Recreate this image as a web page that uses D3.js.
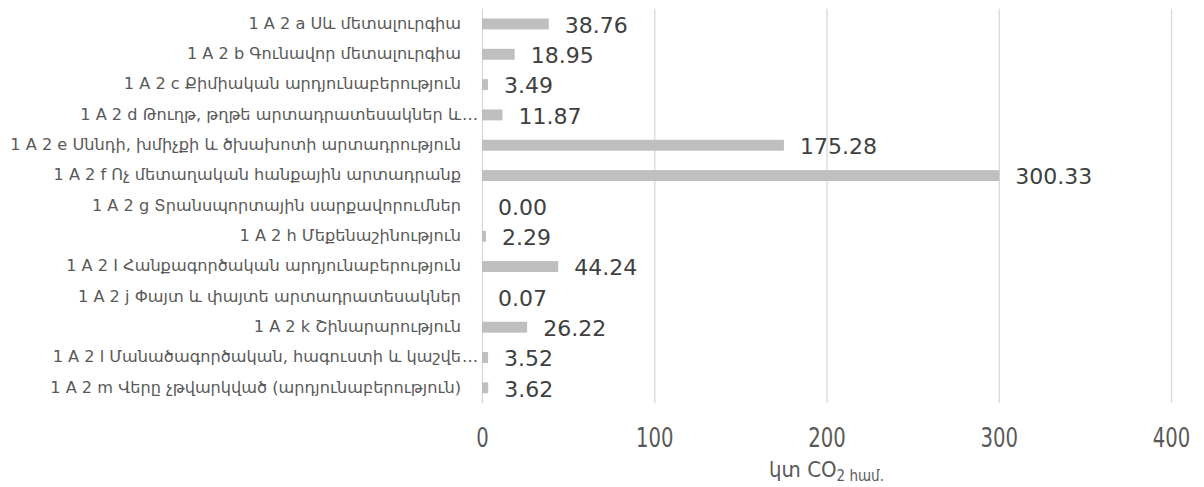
<!DOCTYPE html>
<html>
<head>
<meta charset="utf-8">
<script src="https://cdn.jsdelivr.net/npm/d3@7"></script>
<style>
  html, body { margin: 0; padding: 0; background: #fff; }
  svg { display: block; }
</style>
</head>
<body>
<svg id="chart" width="1204" height="487"></svg>
<script>
const categories = [
  "1 A 2 a Սև մետալուրգիա",
  "1 A 2 b Գունավոր մետալուրգիա",
  "1 A 2 c Քիմիական արդյունաբերություն",
  "1 A 2 d Թուղթ, թղթե արտադրատեսակներ և",
  "1 A 2 e Սննդի, խմիչքի և ծխախոտի արտադրություն",
  "1 A 2 f Ոչ մետաղական հանքային արտադրանք",
  "1 A 2 g Տրանսպորտային սարքավորումներ",
  "1 A 2 h Մեքենաշինություն",
  "1 A 2 I Հանքագործական արդյունաբերություն",
  "1 A 2 j Փայտ և փայտե արտադրատեսակներ",
  "1 A 2 k Շինարարություն",
  "1 A 2 l Մանածագործական, հագուստի և կաշվե",
  "1 A 2 m Վերը չթվարկված (արդյունաբերություն)"
];
const truncated = [false, false, false, true, false, false, false, false, false, false, false, true, false];
const values = [38.76, 18.95, 3.49, 11.87, 175.28, 300.33, 0.00, 2.29, 44.24, 0.07, 26.22, 3.52, 3.62];
const xTicks = [0, 100, 200, 300, 400];
const axisTitle = "կտ CO";
const axisTitleSub = "2 համ.";

const svg = d3.select("#chart");
const mLeft = 482, mRight = 1171, mTop = 8.8, mBottom = 403;

const x = d3.scaleLinear().domain([0, 400]).range([mLeft, mRight]);
const y = d3.scaleBand().domain(categories).range([mTop, mBottom]).paddingInner(0.64).paddingOuter(0.32);

// gridlines
svg.append("g")
  .attr("transform", `translate(0,${mBottom})`)
  .call(d3.axisBottom(x).tickValues(xTicks).tickSize(-(mBottom - mTop)).tickFormat(""))
  .call(g => g.select(".domain").remove())
  .call(g => g.selectAll("line").attr("stroke", "#d9d9d9").attr("stroke-width", 1.3));

// tick labels (narrow look, compressed glyphs)
svg.append("g")
  .attr("transform", `translate(0,${mBottom})`)
  .call(d3.axisBottom(x).tickValues(xTicks).tickSize(0).tickPadding(44).tickFormat(d3.format("d")))
  .call(g => g.select(".domain").remove())
  .call(g => g.selectAll("text")
    .attr("font-family", "'DejaVu Sans Condensed', 'DejaVu Sans', sans-serif")
    .attr("font-size", 26).attr("fill", "#595959").attr("dy", "0")
    .each(function() {
      const L = this.getComputedTextLength();
      d3.select(this).attr("textLength", L * 0.84).attr("lengthAdjust", "spacingAndGlyphs");
    }));

// bars
svg.append("g").selectAll("rect").data(values).join("rect")
  .attr("x", x(0))
  .attr("y", (d, i) => y(categories[i]))
  .attr("width", d => x(d) - x(0))
  .attr("height", y.bandwidth())
  .attr("fill", "#bfbfbf");

// value labels
svg.append("g").selectAll("text").data(values).join("text")
  .attr("x", d => x(d) + 16)
  .attr("y", (d, i) => y(categories[i]) + y.bandwidth() / 2)
  .attr("dy", "0.4em")
  .attr("font-family", "'DejaVu Sans', sans-serif")
  .attr("font-size", 22)
  .attr("fill", "#404040")
  .text(d => d3.format(".2f")(d));

// category labels
const labelRight = 461;
const catG = svg.append("g");
const catText = catG.selectAll("text.cat").data(categories).join("text")
  .attr("class", "cat")
  .attr("x", labelRight)
  .attr("y", d => y(d) + y.bandwidth() / 2)
  .attr("dy", "0.3em")
  .attr("text-anchor", "end")
  .attr("font-family", "'DejaVu Sans', sans-serif")
  .attr("font-size", 16)
  .attr("fill", "#595959")
  .text(d => d);
const refNode = catText.nodes()[4];
const w = refNode.getComputedTextLength();
const fs = 16 * 451 / w;
catText.attr("font-size", fs);
catG.selectAll("text.ell").data(categories.filter((d, i) => truncated[i])).join("text")
  .attr("class", "ell")
  .attr("x", labelRight + 1)
  .attr("y", d => y(d) + y.bandwidth() / 2)
  .attr("dy", "0.3em")
  .attr("font-family", "'DejaVu Sans', sans-serif")
  .attr("font-size", fs)
  .attr("fill", "#595959")
  .text("…");

// axis title
const t = svg.append("text")
  .attr("x", x(200))
  .attr("y", 477)
  .attr("text-anchor", "middle")
  .attr("font-family", "'DejaVu Sans Condensed', 'DejaVu Sans', sans-serif")
  .attr("font-size", 22)
  .attr("fill", "#595959");
t.append("tspan").text(axisTitle);
t.append("tspan").attr("font-size", 15).attr("dy", 4).text(axisTitleSub);
</script>
</body>
</html>
